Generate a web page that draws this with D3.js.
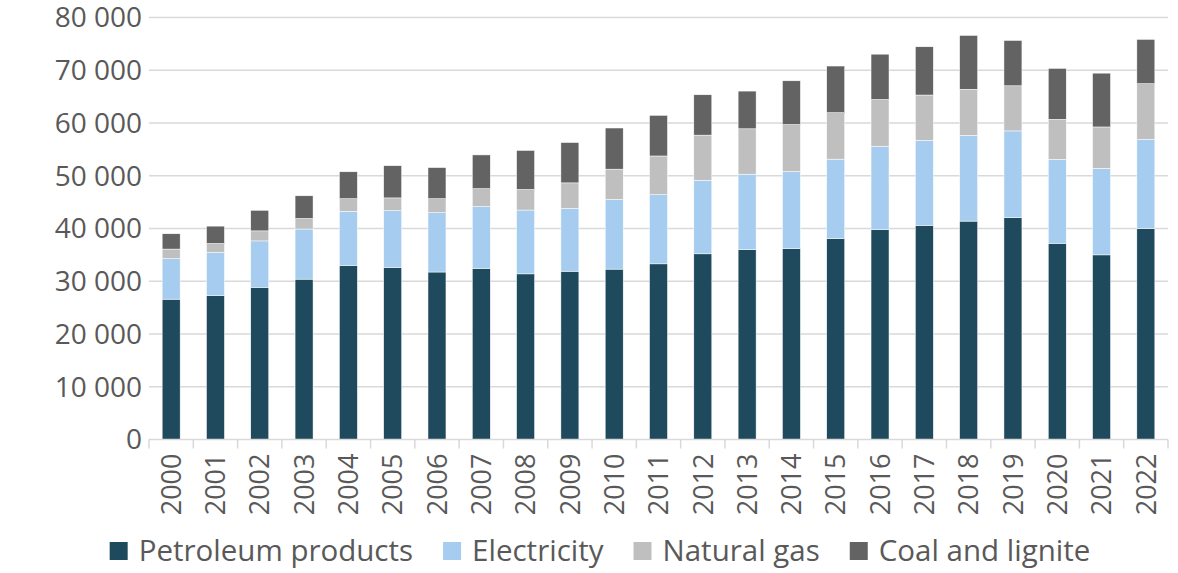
<!DOCTYPE html>
<html>
<head>
<meta charset="utf-8">
<script src="https://cdn.jsdelivr.net/npm/d3@7"></script>
<style>
  body { margin: 0; background: #fff; }
  text { font-family: "Segoe UI", "Open Sans", sans-serif; fill: #595959; }
</style>
</head>
<body>
<div id="chart"></div>
<script>
var years = ["2000","2001","2002","2003","2004","2005","2006","2007","2008","2009","2010",
  "2011","2012","2013","2014","2015","2016","2017","2018","2019","2020","2021","2022"];

// values
var petroleum = [26600, 27300, 28850, 30400, 33000, 32600, 31750, 32450, 31400, 31900, 32300,
  33300, 35200, 36000, 36200, 38100, 39800, 40600, 41400, 42050, 37200, 35000, 40000];
var electricity = [7700, 8150, 8800, 9500, 10250, 10800, 11250, 11700, 12100, 11900, 13200,
  13100, 13950, 14300, 14600, 15050, 15800, 16100, 16250, 16450, 15900, 16400, 16900];
var naturalGas = [1800, 1700, 1900, 2000, 2400, 2400, 2650, 3400, 3900, 4850, 5750,
  7350, 8550, 8600, 8900, 8800, 8850, 8600, 8750, 8550, 7600, 7850, 10550];
var coal = [2900, 3300, 3900, 4300, 5100, 6100, 5900, 6400, 7400, 7650, 7800,
  7700, 7650, 7150, 8300, 8850, 8600, 9150, 10200, 8600, 9650, 10200, 8400];

var seriesNames = ["Petroleum products", "Electricity", "Natural gas", "Coal and lignite"];
var seriesColors = ["#1f4a5d", "#a6cdef", "#bfbfbf", "#636363"];
var yTicks = [0, 10000, 20000, 30000, 40000, 50000, 60000, 70000, 80000];

function draw() {
  var width = 1178, height = 573;
  var plotLeft = 149, plotRight = 1168, plotTop = 17.5, plotBottom = 439.5;

  var rows = years.map((yr, i) => ({
    year: yr, p: petroleum[i], e: electricity[i], g: naturalGas[i], c: coal[i]
  }));
  var keys = ["p", "e", "g", "c"];

  var svg = d3.select("#chart").append("svg")
    .attr("width", width).attr("height", height);

  var x = d3.scaleBand().domain(years).range([plotLeft, plotRight])
    .paddingInner(0.594).paddingOuter(0.297);
  var y = d3.scaleLinear().domain([0, 80000]).range([plotBottom, plotTop]);

  var fmt = v => d3.format(",")(v).replace(/,/g, " ");

  // gridlines
  svg.append("g").selectAll("line").data(yTicks.slice(1)).enter().append("line")
    .attr("x1", plotLeft).attr("x2", plotRight)
    .attr("y1", d => y(d)).attr("y2", d => y(d))
    .attr("stroke", "#d9d9d9").attr("stroke-width", 1.5);

  // y labels
  svg.append("g").selectAll("text").data(yTicks).enter().append("text")
    .attr("x", 142).attr("y", d => y(d))
    .attr("dy", "0.35em")
    .attr("text-anchor", "end")
    .style("font-size", "28px")
    .text(fmt);

  // stacked bars
  var stack = d3.stack().keys(keys)(rows);
  svg.append("g").selectAll("g").data(stack).enter().append("g")
    .attr("fill", (d, i) => seriesColors[i])
    .selectAll("rect").data(d => d).enter().append("rect")
    .attr("x", d => x(d.data.year))
    .attr("width", x.bandwidth())
    .attr("y", d => y(d[1]))
    .attr("height", d => y(d[0]) - y(d[1]))
    .attr("stroke", "#ffffff").attr("stroke-width", 0.5);

  // x axis line + ticks between categories
  var step = x.step();
  svg.append("line").attr("x1", plotLeft).attr("x2", plotRight)
    .attr("y1", plotBottom).attr("y2", plotBottom)
    .attr("stroke", "#d9d9d9").attr("stroke-width", 1.5);
  svg.append("g").selectAll("line").data(d3.range(years.length + 1)).enter().append("line")
    .attr("x1", i => plotLeft + i * step).attr("x2", i => plotLeft + i * step)
    .attr("y1", plotBottom).attr("y2", plotBottom + 9)
    .attr("stroke", "#d9d9d9").attr("stroke-width", 1.5);

  // year labels
  svg.append("g").selectAll("text").data(years).enter().append("text")
    .attr("transform", d => "translate(" + (x(d) + x.bandwidth() / 2) + "," + (plotBottom + 14) + ") rotate(-90)")
    .attr("text-anchor", "end")
    .attr("dy", "0.36em")
    .style("font-size", "27px")
    .text(d => d);

  // legend
  var legend = svg.append("g");
  var lx = 0;
  seriesNames.forEach((name, i) => {
    var g = legend.append("g").attr("transform", "translate(" + lx + ",0)");
    g.append("rect").attr("x", 0).attr("y", -9).attr("width", 18).attr("height", 18)
      .attr("fill", seriesColors[i]);
    var t = g.append("text").attr("x", 29).attr("dy", "0.35em")
      .style("font-size", "29.5px").text(name);
    lx += 29 + t.node().getComputedTextLength() + 30;
  });
  lx -= 30;
  legend.attr("transform", "translate(" + (600 - lx / 2) + ",551)");
}
draw();
</script>
</body>
</html>
